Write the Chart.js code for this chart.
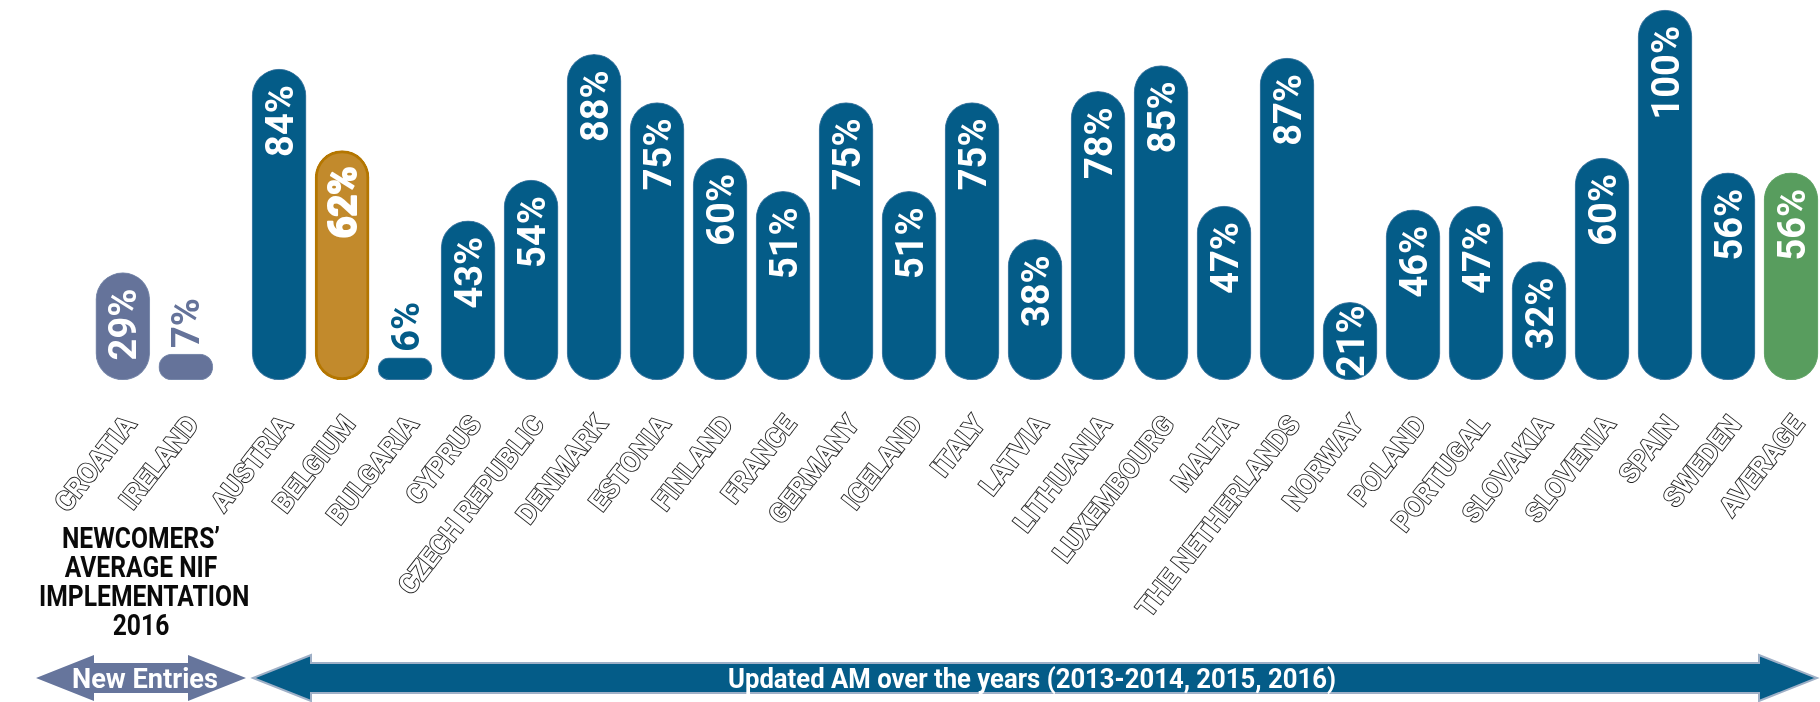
<!DOCTYPE html>
<html><head><meta charset="utf-8">
<script src="https://cdn.jsdelivr.net/npm/chart.js@4.4.1/dist/chart.umd.min.js"></script>
<style>
html,body{margin:0;padding:0;background:#fff;}
#wrap{position:relative;width:1820px;height:702px;overflow:hidden;background:#fff;}
#c{position:absolute;left:0;top:0;}
#newcomers{position:absolute;left:21px;top:524px;width:240px;text-align:center;font-family:Roboto,sans-serif;font-weight:bold;font-size:29px;line-height:29px;color:#0a0a0a;transform:scaleX(0.85);transform-origin:50% 0;}
#arrows{position:absolute;left:0;top:0;}
</style></head><body>
<div id="wrap">
<canvas id="c" width="1820" height="702"></canvas>
<div id="newcomers">NEWCOMERS’<br>AVERAGE NIF<br>IMPLEMENTATION<br>2016</div>
<svg id="arrows" width="1820" height="702" xmlns="http://www.w3.org/2000/svg">
  <polygon id="arNew" fill="#66759c" points=""/>
  <polygon id="arUpd" fill="#045c88" stroke="#9fb0c7" stroke-width="2" points=""/>
  <text x="145" y="688" fill="#fff" font-family="Roboto" font-weight="bold" font-size="28" text-anchor="middle" textLength="146" lengthAdjust="spacingAndGlyphs">New Entries</text>
  <text x="1032" y="688" fill="#fff" font-family="Roboto" font-weight="bold" font-size="28" text-anchor="middle" textLength="608" lengthAdjust="spacingAndGlyphs">Updated AM over the years (2013-2014, 2015, 2016)</text>
</svg>
</div>
<script>
// ---- data ----
const categories = ['CROATIA','IRELAND','AUSTRIA','BELGIUM','BULGARIA','CYPRUS','CZECH REPUBLIC','DENMARK','ESTONIA','FINLAND','FRANCE','GERMANY','ICELAND','ITALY','LATVIA','LITHUANIA','LUXEMBOURG','MALTA','THE NETHERLANDS','NORWAY','POLAND','PORTUGAL','SLOVAKIA','SLOVENIA','SPAIN','SWEDEN','AVERAGE'];
const values = [29,7,84,62,6,43,54,88,75,60,51,75,51,75,38,78,85,47,87,21,46,47,32,60,100,56,56];
const groups = ['new','new','upd','highlight','upd','upd','upd','upd','upd','upd','upd','upd','upd','upd','upd','upd','upd','upd','upd','upd','upd','upd','upd','upd','upd','upd','avg'];
const valueSuffix = '%';

// ---- styling / layout ----
const groupGap = 0.48;
const colors = {new:'#65739a', upd:'#045c88', highlight:'#c28a2c', avg:'#589d5e'};
const borders = {new:'#8190b0', upd:'#4a7fa6', highlight:'#b47600', avg:'#6aa96f'};
const nNew = groups.filter(g=>g==='new').length;
const slots = categories.map((c,i)=> groups[i]==='new' ? (i - nNew - groupGap) : (i - nNew));

function arrowPts(x1,x2,cy,h,H,s){
  return [[x1,cy],[x1+h,cy-H],[x1+h,cy-s],[x2-h,cy-s],[x2-h,cy-H],[x2,cy],[x2-h,cy+H],[x2-h,cy+s],[x1+h,cy+s],[x1+h,cy+H]].map(p=>p.join(',')).join(' ');
}
document.getElementById('arNew').setAttribute('points', arrowPts(36,246,678,58,23,15));
document.getElementById('arUpd').setAttribute('points', arrowPts(253,1817,678,58,23,15));

const valueLabels = {
  id:'valueLabels',
  afterDatasetsDraw(chart){
    const ctx = chart.ctx;
    const meta = chart.getDatasetMeta(0);
    ctx.save();
    ctx.font = 'bold 38px Roboto';
    ctx.textBaseline = 'alphabetic';
    const sx = 1.0, capHalf = 13.5;
    meta.data.forEach((bar,i)=>{
      const txt = values[i] + valueSuffix;
      const g = groups[i];
      const h = bar.base - bar.y;
      const len = ctx.measureText(txt).width * sx;
      ctx.save();
      if (h < 40) {
        ctx.translate(bar.x, bar.y - 6);
        ctx.rotate(-Math.PI/2);
        ctx.scale(sx,1);
        ctx.textAlign = 'left';
        ctx.fillStyle = colors[g];
        ctx.fillText(txt, 0, capHalf);
      } else {
        const off = Math.max(3, Math.min(16, h - len - 3));
        ctx.translate(bar.x, bar.y + off);
        ctx.rotate(-Math.PI/2);
        ctx.scale(sx,1);
        ctx.textAlign = 'right';
        ctx.fillStyle = '#fff';
        if (g === 'highlight') {
          ctx.lineWidth = 2; ctx.strokeStyle = '#fff'; ctx.lineJoin='round';
          ctx.strokeText(txt, 0, capHalf);
        }
        ctx.fillText(txt, 0, capHalf);
      }
      ctx.restore();
    });
    ctx.restore();
  }
};

Chart.defaults.font.family = 'Roboto, sans-serif';
new Chart(document.getElementById('c'), {
  type:'bar',
  data:{
    datasets:[{
      data: slots.map((s,i)=>({x:s, y:values[i]})),
      backgroundColor: groups.map(g=>colors[g]),
      borderColor: groups.map(g=>borders[g]),
      borderWidth: groups.map(g=> g==='highlight' ? 3 : 1),
      borderSkipped:false,
      borderRadius: 999,
      barThickness: 54
    }]
  },
  options:{
    responsive:false,
    devicePixelRatio:1,
    animation:false,
    layout:{padding:0},
    plugins:{legend:{display:false}, tooltip:{enabled:false}},
    scales:{
      x:{
        type:'linear',
        offset:false,
        bounds:'data',
        min:-4.43, max:24.46,
        grid:{display:true, drawOnChartArea:false, drawTicks:true, tickLength:38, color:'rgba(0,0,0,0)'},
        border:{display:false},
        afterBuildTicks:(scale)=>{ scale.ticks = slots.map(v=>({value:v})); },
        afterFit:(scale)=>{
          scale.height = 322; scale.paddingLeft = 0; scale.paddingRight = 0;
        },
        ticks:{
          autoSkip:false,
          minRotation:52, maxRotation:52,
          padding:0,
          labelOffset:9,
          font:{size:27, weight:'bold', family:'Roboto', lineHeight:0.3},
          color:'#ffffff',
          textStrokeColor:'#1e1e1e',
          textStrokeWidth:1.8,
          callback:(v)=>{ const i = slots.indexOf(v); return i>=0 ? categories[i] : ''; }
        }
      },
      y:{display:false, min:0, max:102.7}
    }
  },
  plugins:[valueLabels]
});
</script>
</body></html>
